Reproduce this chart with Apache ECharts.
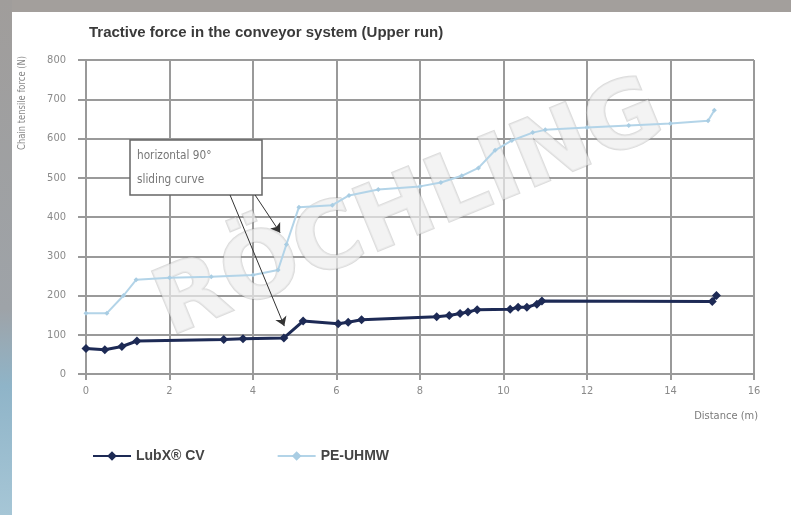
<!DOCTYPE html>
<html>
<head>
<meta charset="utf-8">
<script src="https://cdn.jsdelivr.net/npm/echarts@6/dist/echarts.min.js"></script>
<style>
html,body{margin:0;padding:0;background:#fff;}
#chart{width:791px;height:515px;}
</style>
</head>
<body>
<div id="chart"></div>
<script>
// ---- data ----
var titleText = 'Tractive force in the conveyor system (Upper run)';
var seriesNames = ['LubX\u00AE CV', 'PE-UHMW'];
var lubxDistance = [0, 0.45, 0.86, 1.22, 3.3, 3.76, 4.74, 5.2, 6.04, 6.28, 6.6, 8.4, 8.7, 8.96, 9.15, 9.37, 10.16, 10.35, 10.56, 10.8, 10.92, 15.0, 15.1];
var lubxForce    = [65, 62, 70, 84, 88, 90, 92, 135, 128, 132, 138, 146, 149, 154, 158, 164, 165, 170, 170, 178, 186, 185, 200];
var peDistance = [0, 0.5, 0.9, 1.2, 2, 3, 4, 4.6, 4.8, 5.1, 5.9, 6.3, 7, 8, 8.5, 9, 9.4, 9.8, 10.2, 10.7, 11, 12, 13, 14, 14.9, 15.05];
var peForce    = [155, 155, 200, 240, 245, 248, 252, 265, 330, 425, 430, 455, 470, 478, 488, 505, 525, 570, 595, 615, 622, 628, 633, 638, 645, 672];
var xTicks = [0, 2, 4, 6, 8, 10, 12, 14, 16];
var yTicks = [0, 100, 200, 300, 400, 500, 600, 700, 800];
var xAxisName = 'Distance (m)';
var yAxisName = 'Chain tensile force (N)';
var noteLines = ['horizontal 90\u00B0', 'sliding curve'];
var arrowFrom = [[3.45, 456], [4.05, 456]];
var arrowTo   = [[4.75, 122], [4.65, 360]];

function zip(a, b) { return a.map(function (v, i) { return [v, b[i]]; }); }

var narrow = "'Liberation Sans Narrow','DejaVu Sans Condensed','Arial Narrow','Liberation Sans',sans-serif";
var chart = echarts.init(document.getElementById('chart'), null, {renderer: 'canvas'});

var option = {
  backgroundColor: '#ffffff',
  animation: false,
  title: {
    text: titleText,
    left: 84, top: 20,
    textStyle: {fontFamily: 'Liberation Sans, Arial, sans-serif', fontWeight: 'bold', fontSize: 15, color: '#3a3a3a'}
  },
  grid: {left: 86, right: 37, top: 60, bottom: 141, containLabel: false},
  legend: {
    left: 87, top: 444,
    itemWidth: 38, itemHeight: 12, itemGap: 72,
    textStyle: {fontFamily: 'Liberation Sans, Arial, sans-serif', fontWeight: 'bold', fontSize: 14, color: '#444'},
    data: seriesNames
  },
  xAxis: {
    type: 'value', min: xTicks[0], max: xTicks[xTicks.length - 1], interval: 2,
    name: xAxisName, nameLocation: 'end', nameGap: 4,
    nameTextStyle: {fontFamily: narrow, fontSize: 11, color: '#7a7a7a', align: 'right', verticalAlign: 'top', padding: [37, 0, 0, 0]},
    axisLine: {show: true, lineStyle: {color: '#999', width: 2}},
    axisTick: {show: true, inside: false, length: 6, lineStyle: {color: '#999', width: 2}},
    axisLabel: {margin: 12, fontFamily: narrow, fontSize: 11, color: '#8a8a8a'},
    splitLine: {show: true, lineStyle: {color: '#9a9a9a', width: 2}}
  },
  yAxis: {
    type: 'value', min: yTicks[0], max: yTicks[yTicks.length - 1], interval: 100,
    axisLine: {show: true, lineStyle: {color: '#999', width: 2}},
    axisTick: {show: true, inside: false, length: 8, lineStyle: {color: '#999', width: 2}},
    axisLabel: {margin: 20, fontFamily: narrow, fontSize: 11, color: '#8a8a8a'},
    splitLine: {show: true, lineStyle: {color: '#9a9a9a', width: 2}}
  },
  graphic: [
    {type: 'rect', shape: {x: 0, y: 0, width: 791, height: 12}, style: {fill: '#a39f9c'}, z: -10},
    {type: 'rect', shape: {x: 0, y: 0, width: 12, height: 515},
      style: {fill: new echarts.graphic.LinearGradient(0, 0, 0, 1, [
        {offset: 0, color: '#a09d9b'}, {offset: 0.6, color: '#9ea3a8'}, {offset: 0.75, color: '#8fb4c8'}, {offset: 1, color: '#a6c6d6'}])}, z: -10},
    {type: 'text', x: 22, y: 150, rotation: Math.PI / 2, scaleX: 0.85,
      style: {text: yAxisName, font: '11px ' + narrow, fill: '#8a8a8a', textAlign: 'left', textVerticalAlign: 'middle'}},
    {type: 'text', x: 410, y: 212, rotation: 0.39, z: 1,
      style: {text: 'R\u00D6CHLING', font: 'bold 92px "DejaVu Sans", sans-serif', fill: 'rgba(238,238,238,0.7)',
        stroke: 'rgba(140,140,140,0.3)', lineWidth: 2, textAlign: 'center', textVerticalAlign: 'middle'}},
    {type: 'rect', z: 5, shape: {x: 130, y: 140, width: 132, height: 55},
      style: {fill: '#ffffff', stroke: '#666', lineWidth: 1.5}},
    {type: 'text', z: 6, x: 137, y: 156, scaleX: 0.9,
      style: {text: noteLines[0], font: '13px ' + narrow, fill: '#777', textVerticalAlign: 'middle'}},
    {type: 'text', z: 6, x: 137, y: 180, scaleX: 0.9,
      style: {text: noteLines[1], font: '13px ' + narrow, fill: '#777', textVerticalAlign: 'middle'}}
  ],
  series: [
    {
      name: seriesNames[1], type: 'line', z: 3,
      data: zip(peDistance, peForce),
      symbol: 'diamond', symbolSize: 5, showSymbol: true,
      lineStyle: {color: '#b3d4e8', width: 2},
      itemStyle: {color: '#a9cde3'}
    },
    {
      name: seriesNames[0], type: 'line', z: 4,
      data: zip(lubxDistance, lubxForce),
      symbol: 'diamond', symbolSize: 9, showSymbol: true,
      lineStyle: {color: '#1d2a55', width: 3},
      itemStyle: {color: '#1d2a55'},
      markLine: {
        silent: true, symbol: ['none', 'arrow'], symbolSize: 9,
        label: {show: false},
        lineStyle: {color: '#333', width: 1, type: 'solid'},
        itemStyle: {color: '#333'},
        data: arrowFrom.map(function (p, i) { return [{coord: p}, {coord: arrowTo[i]}]; })
      }
    }
  ]
};
chart.setOption(option);
</script>
</body>
</html>
